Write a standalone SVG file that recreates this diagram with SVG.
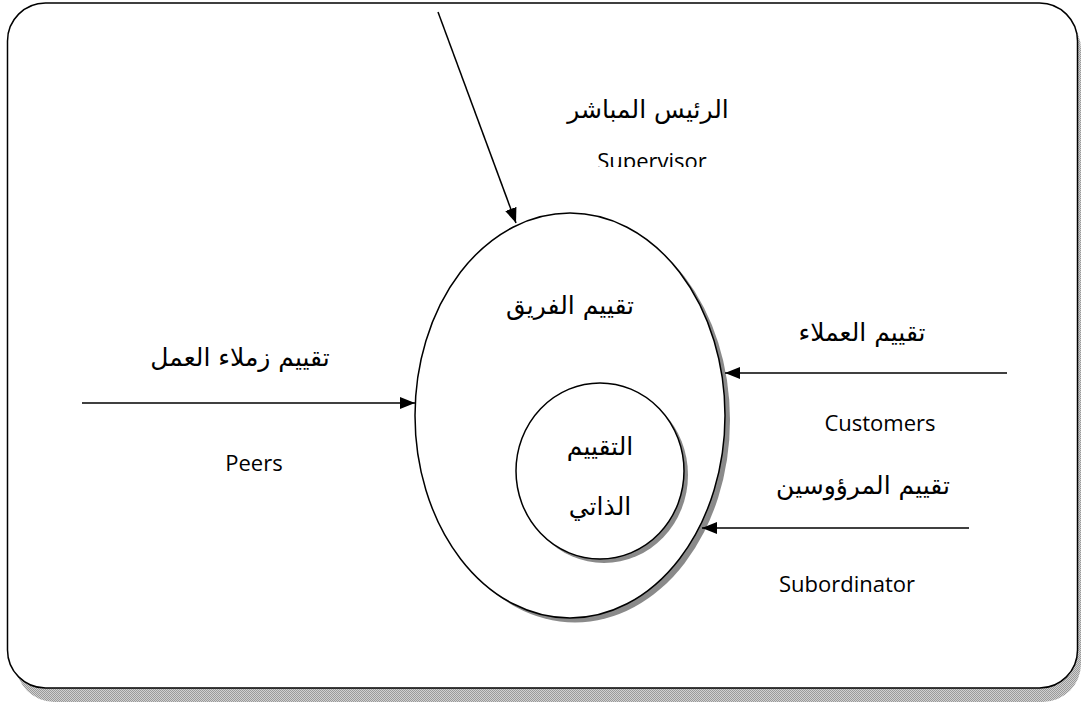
<svg xmlns="http://www.w3.org/2000/svg" width="1081" height="702" viewBox="0 0 1081 702">
<defs>
<pattern id="dots" width="2" height="2" patternUnits="userSpaceOnUse"><rect width="2" height="2" fill="#d0d0d0"/><rect width="1" height="1" fill="#9a9a9a"/><rect x="1" y="1" width="1" height="1" fill="#9a9a9a"/></pattern>
<marker id="ah" markerUnits="userSpaceOnUse" markerWidth="16" markerHeight="12" refX="15" refY="6" orient="auto"><path d="M0,0 L15,6 L0,12 Z" fill="#000"/></marker>
<clipPath id="clipSup"><rect x="500" y="140" width="300" height="27"/></clipPath>
</defs>
<style>
.ar{font-family:"DejaVu Sans",sans-serif;font-size:25px;fill:#000;text-anchor:middle}
.en{font-family:"Open Sans","Noto Sans",sans-serif;font-size:22px;fill:#000;text-anchor:middle}
.conn{stroke:#000;stroke-width:1.5;fill:none;marker-end:url(#ah)}
.sh{fill:#8a8a8a}
.nd{fill:#fff;stroke:#000;stroke-width:1.5}
</style>
<rect width="1081" height="702" fill="#fff"/>
<g id="frame">
<rect x="16" y="11" width="1065" height="691" rx="38" fill="url(#dots)"/>
<rect x="7.5" y="3" width="1070" height="685" rx="38" fill="#fff" stroke="#000" stroke-width="1.5"/>
</g>
<g id="team">
<ellipse cx="575" cy="420" rx="155" ry="202.5" class="sh"/>
<ellipse cx="570" cy="415.5" rx="155" ry="202.5" class="nd"/>
<text x="570" y="314" class="ar">تقييم الفريق</text>
</g>
<g id="self">
<ellipse cx="604" cy="475" rx="84" ry="88" class="sh"/>
<ellipse cx="600" cy="471" rx="84" ry="88" class="nd"/>
<text x="600" y="455" class="ar">التقييم</text>
<text x="600" y="515" class="ar">الذاتي</text>
</g>
<g id="connectors">
<line x1="438" y1="12" x2="516" y2="223" class="conn"/>
<line x1="82" y1="403" x2="415" y2="403" class="conn"/>
<line x1="1007" y1="373" x2="725" y2="373" class="conn"/>
<line x1="969" y1="528" x2="702" y2="528" class="conn"/>
</g>
<g id="supervisor">
<text x="648" y="118" class="ar">الرئيس المباشر</text>
<text x="652" y="169" class="en" clip-path="url(#clipSup)">Supervisor</text>
</g>
<g id="peers">
<text x="240" y="366" class="ar">تقييم زملاء العمل</text>
<text x="254" y="471" class="en">Peers</text>
</g>
<g id="customers">
<text x="862" y="341" class="ar">تقييم العملاء</text>
<text x="880" y="431" class="en">Customers</text>
</g>
<g id="subordinates">
<text x="863" y="494" class="ar">تقييم المرؤوسين</text>
<text x="847" y="592" class="en">Subordinator</text>
</g>
</svg>
